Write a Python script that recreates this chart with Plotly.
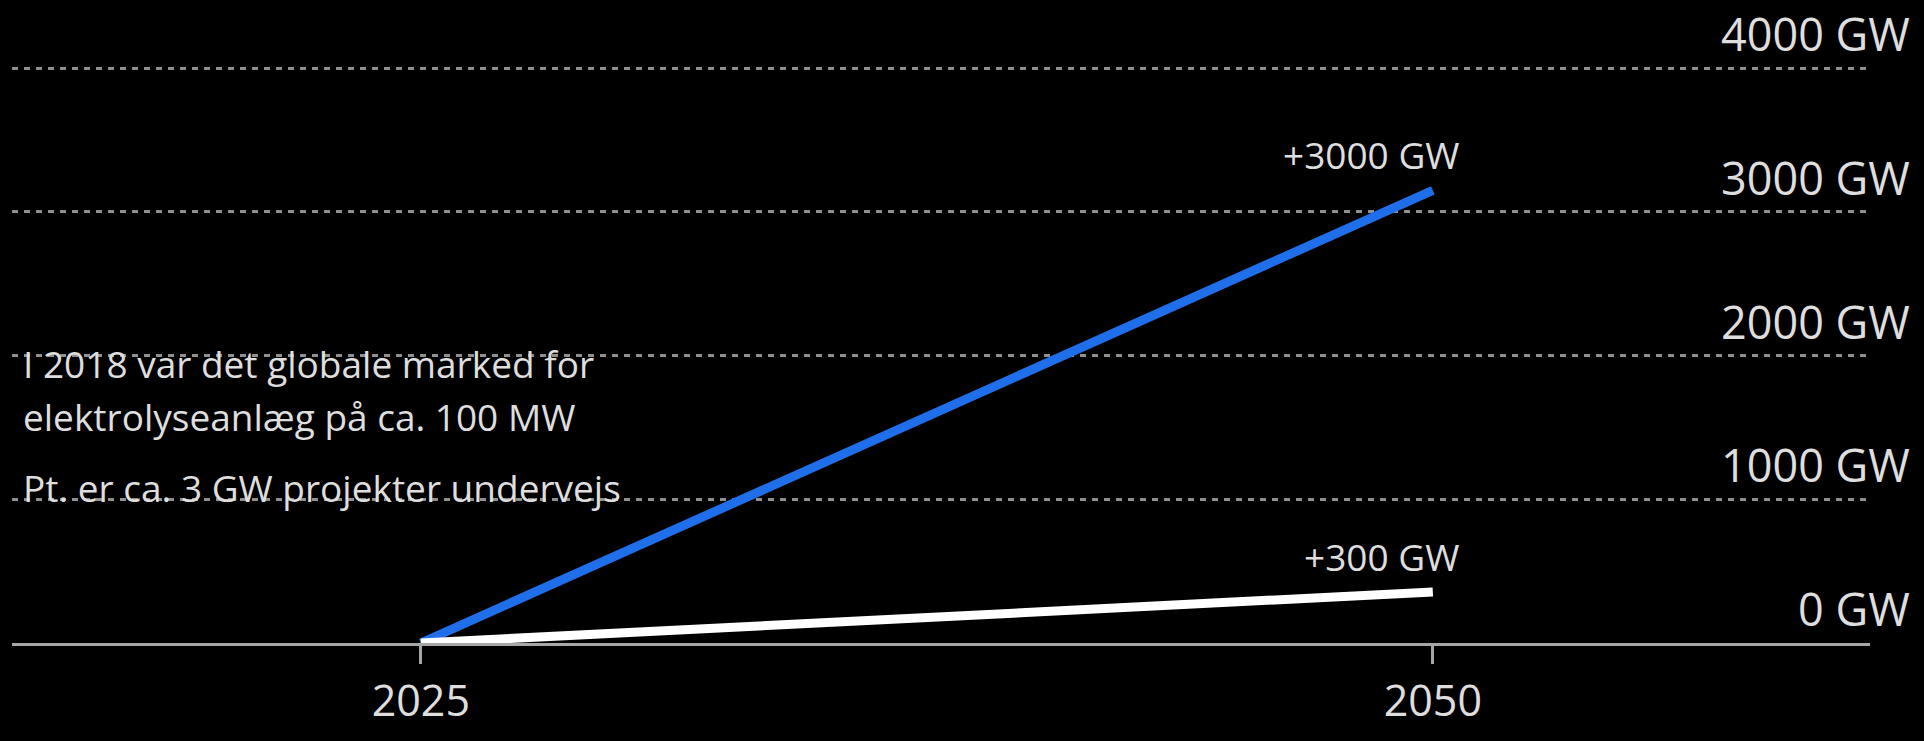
import plotly.graph_objects as go

years = [2025, 2050]
high_scenario = [0, 3150]   # GW, blue line
low_scenario = [0, 355]     # GW, white line
end_labels = ["+3000 GW", "+300 GW"]
y_ticks = [0, 1000, 2000, 3000, 4000]
y_tick_text = ["0 GW", "1000 GW", "2000 GW", "3000 GW", "4000 GW"]
x_ticks = [2025, 2050]
x_tick_text = ["2025", "2050"]
notes = [
    "I 2018 var det globale marked for",
    "elektrolyseanlæg på ca. 100 MW",
    "Pt. er ca. 3 GW projekter undervejs",
]

FONT = "Open Sans"
TXT = "#dedede"
BLUE = "#1f6fea"
GREY = "#a6a6a6"

fig = go.Figure()
fig.add_trace(go.Scatter(x=years, y=high_scenario, mode="lines",
                         line=dict(color=BLUE, width=9), showlegend=False,
                         cliponaxis=False, hoverinfo="skip"))
fig.add_trace(go.Scatter(x=years, y=low_scenario, mode="lines",
                         line=dict(color="#ffffff", width=9), showlegend=False,
                         cliponaxis=False, hoverinfo="skip"))

annotations = []
# y tick labels, sitting above their gridlines at the right edge
for v, t in zip(y_ticks, y_tick_text):
    annotations.append(dict(x=1.0226, xref="paper", y=v, yref="y", text=t,
                            showarrow=False, xanchor="right", yanchor="bottom",
                            yshift=2, font=dict(family=FONT, size=45, color=TXT)))
# end labels
for v, t in zip([high_scenario[-1], low_scenario[-1]], end_labels):
    annotations.append(dict(x=years[-1], xref="x", y=v, yref="y", text=t,
                            showarrow=False, xanchor="right", yanchor="bottom",
                            xshift=28, yshift=8,
                            font=dict(family=FONT, size=37, color=TXT)))
# notes
for t, py in zip(notes, [0.4808, 0.3890, 0.2671]):
    annotations.append(dict(x=0, xref="paper", y=py, yref="paper", text=t,
                            showarrow=False, xanchor="left", yanchor="middle",
                            xshift=9, font=dict(family=FONT, size=37, color=TXT)))

fig.update_layout(
    width=1924, height=741,
    margin=dict(l=12, r=54, t=61, b=81),
    paper_bgcolor="#000000", plot_bgcolor="#000000",
    showlegend=False,
    annotations=annotations,
    xaxis=dict(range=[2014.9, 2060.8], tickvals=x_ticks, ticktext=x_tick_text,
               showgrid=False, zeroline=False, showline=True, linecolor=GREY,
               linewidth=3, ticks="outside", ticklen=18, tickwidth=3, tickcolor=GREY,
               ticklabelstandoff=0,
               tickfont=dict(family=FONT, size=43, color=TXT), fixedrange=True),
    yaxis=dict(range=[0, 4050], tickvals=y_ticks, showticklabels=False,
               showgrid=True, gridcolor="#909090", gridwidth=3, griddash="6px,6px",
               zeroline=False, showline=False, fixedrange=True),
)

fig.write_html("out.html", config={"displayModeBar": False},
               post_script="document.body.style.margin='0';"
                           "document.body.style.background='#000';")
